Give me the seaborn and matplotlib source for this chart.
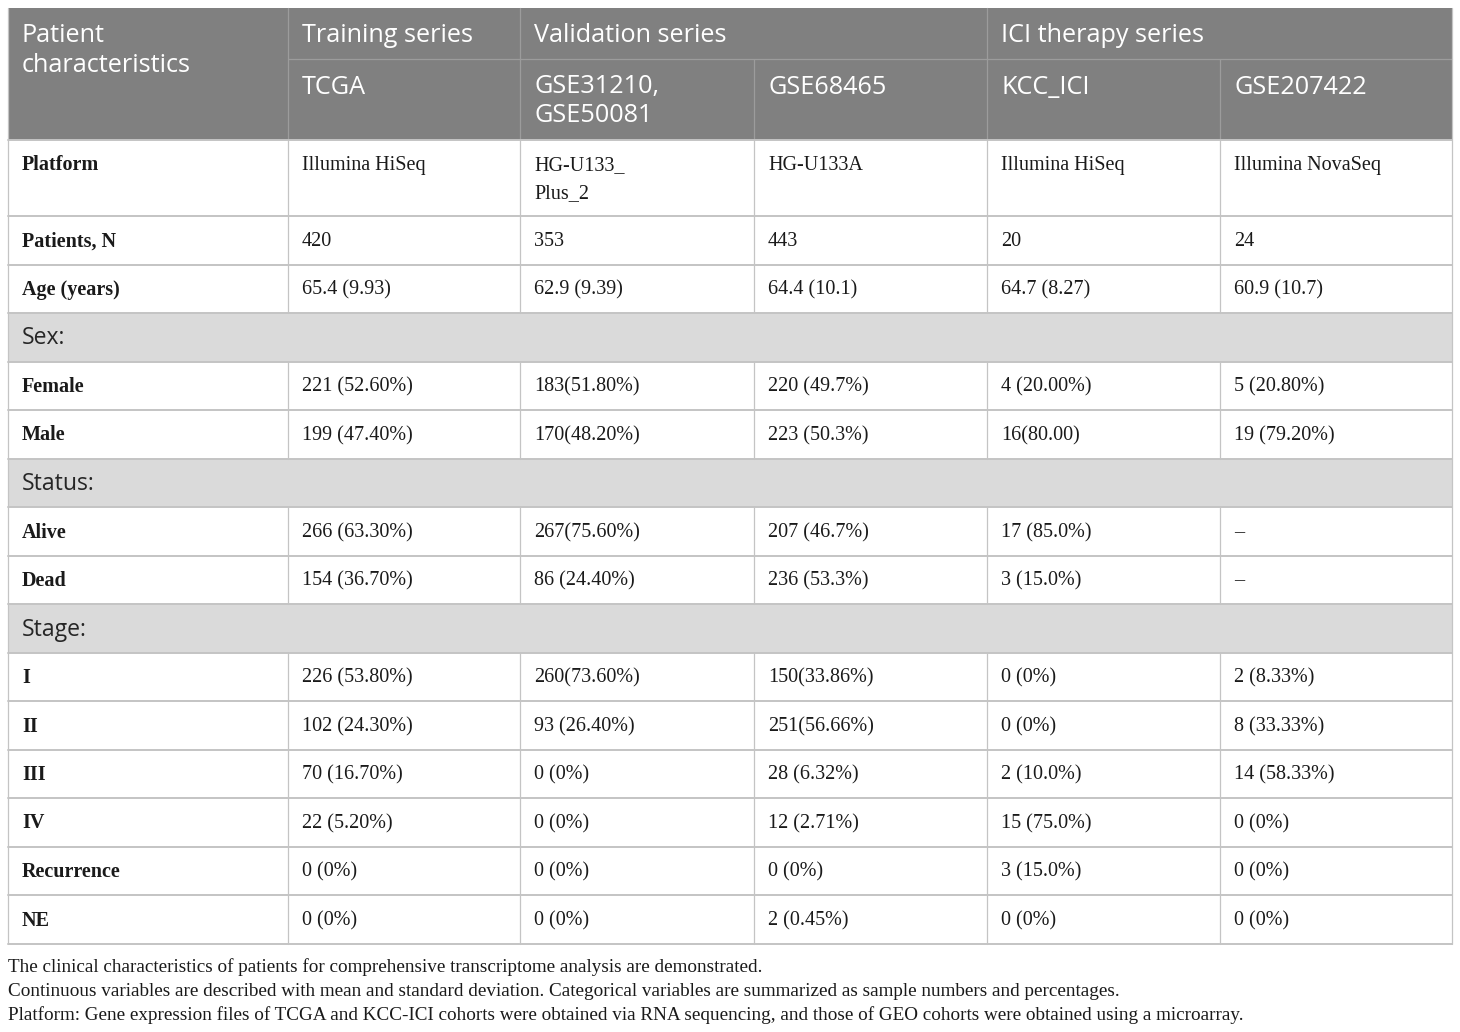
import matplotlib
matplotlib.use('agg')
import matplotlib.pyplot as plt
from matplotlib.patches import Rectangle
import seaborn as sns

# table content
group_labels = ["Training series", "Validation series", "ICI therapy series"]
group_spans = [1, 2, 2]
cohorts = ["TCGA", "GSE31210,\nGSE50081", "GSE68465", "KCC_ICI", "GSE207422"]

row_labels = ["Platform", "Patients, N", "Age (years)", "Sex:", "Female", "Male",
              "Status:", "Alive", "Dead", "Stage:", "I", "II", "III", "IV",
              "Recurrence", "NE"]
section_rows = ["Sex:", "Status:", "Stage:"]

platform = ["Illumina HiSeq", "HG-U133_\nPlus_2", "HG-U133A", "Illumina HiSeq", "Illumina NovaSeq"]
patients_n = ["420", "353", "443", "20", "24"]
age = ["65.4 (9.93)", "62.9 (9.39)", "64.4 (10.1)", "64.7 (8.27)", "60.9 (10.7)"]
female = ["221 (52.60%)", "183(51.80%)", "220 (49.7%)", "4 (20.00%)", "5 (20.80%)"]
male = ["199 (47.40%)", "170(48.20%)", "223 (50.3%)", "16(80.00)", "19 (79.20%)"]
alive = ["266 (63.30%)", "267(75.60%)", "207 (46.7%)", "17 (85.0%)", "\u2013"]
dead = ["154 (36.70%)", "86 (24.40%)", "236 (53.3%)", "3 (15.0%)", "\u2013"]
stage_1 = ["226 (53.80%)", "260(73.60%)", "150(33.86%)", "0 (0%)", "2 (8.33%)"]
stage_2 = ["102 (24.30%)", "93 (26.40%)", "251(56.66%)", "0 (0%)", "8 (33.33%)"]
stage_3 = ["70 (16.70%)", "0 (0%)", "28 (6.32%)", "2 (10.0%)", "14 (58.33%)"]
stage_4 = ["22 (5.20%)", "0 (0%)", "12 (2.71%)", "15 (75.0%)", "0 (0%)"]
recurrence = ["0 (0%)", "0 (0%)", "0 (0%)", "3 (15.0%)", "0 (0%)"]
not_eval = ["0 (0%)", "0 (0%)", "2 (0.45%)", "0 (0%)", "0 (0%)"]

footnotes = [
    "The clinical characteristics of patients for comprehensive transcriptome analysis are demonstrated.",
    "Continuous variables are described with mean and standard deviation. Categorical variables are summarized as sample numbers and percentages.",
    "Platform: Gene expression files of TCGA and KCC-ICI cohorts were obtained via RNA sequencing, and those of GEO cohorts were obtained using a microarray.",
]

cells = {
    "Platform": platform, "Patients, N": patients_n, "Age (years)": age,
    "Female": female, "Male": male, "Alive": alive, "Dead": dead,
    "I": stage_1, "II": stage_2, "III": stage_3, "IV": stage_4,
    "Recurrence": recurrence, "NE": not_eval,
}

sns.set_theme(style="white")
SANS = ["Open Sans", "DejaVu Sans"]
SERIF = ["Liberation Serif", "DejaVu Serif"]

W, H = 1460, 1032
fig = plt.figure(figsize=(W / 100, H / 100), dpi=100)
ax = fig.add_axes([0, 0, 1, 1])
ax.set_xlim(0, W)
ax.set_ylim(H, 0)
ax.axis("off")

col_x = [8, 288, 520, 754, 987, 1220, 1452]
head_top, head_mid, head_bot = 8, 59, 140
row_h = [76] + [48.5] * (len(row_labels) - 1)
row_y = [head_bot]
for h in row_h:
    row_y.append(row_y[-1] + h)

HEAD_BG = "#808080"
HEAD_LINE = "#9c9c9c"
SEC_BG = "#dadada"
GRID = "#c4c4c4"
pad = 14


def put_lines(x, y, s, step, **kw):
    # multi-line cell text with a fixed pixel line step
    for j, line in enumerate(s.split("\n")):
        ax.text(x, y + j * step, line, va="center", ha="left", **kw)


# header block
ax.add_patch(Rectangle((col_x[0], head_top), col_x[-1] - col_x[0], head_bot - head_top,
                       facecolor=HEAD_BG, edgecolor="none"))
ax.plot([col_x[1], col_x[-1]], [head_mid, head_mid], color=HEAD_LINE, lw=0.9)
for x in [col_x[1], col_x[2], col_x[4]]:
    ax.plot([x, x], [head_top, head_bot], color=HEAD_LINE, lw=0.9)
for x in [col_x[3], col_x[5]]:
    ax.plot([x, x], [head_mid, head_bot], color=HEAD_LINE, lw=0.9)

head_kw = dict(color="white", family=SANS, fontsize=18.2)
put_lines(col_x[0] + pad, 36, "Patient\ncharacteristics", 29.5, **head_kw)
ci = 1
for lab, span in zip(group_labels, group_spans):
    put_lines(col_x[ci] + pad, 36, lab, 30, **head_kw)
    ci += span
for i, c in enumerate(cohorts):
    put_lines(col_x[i + 1] + pad, 87, c, 29, **head_kw)

# body rows
body_kw = dict(color="#1a1a1a", family=SERIF, fontsize=14.5)
for r, lab in enumerate(row_labels):
    y0, y1 = row_y[r], row_y[r + 1]
    ty = y0 + 25.5
    if lab in section_rows:
        ax.add_patch(Rectangle((col_x[0], y0), col_x[-1] - col_x[0], y1 - y0,
                               facecolor=SEC_BG, edgecolor="none"))
        ax.text(col_x[0] + pad, y0 + 25.5, lab, color="#262626", family=SANS,
                fontsize=16.6, va="center", ha="left")
        continue
    for x in col_x[1:-1]:
        ax.plot([x, x], [y0, y1], color=GRID, lw=0.9)
    put_lines(col_x[0] + pad, ty, lab, 28, fontweight="bold", **body_kw)
    for i, v in enumerate(cells[lab]):
        put_lines(col_x[i + 1] + pad, ty, v, 28, **body_kw)

for y in row_y:
    ax.plot([col_x[0], col_x[-1]], [y, y], color=GRID, lw=1.4)
for x in [col_x[0], col_x[-1]]:
    ax.plot([x, x], [head_top, row_y[-1]], color=GRID, lw=0.9)

# footnotes
for k, note in enumerate(footnotes):
    ax.text(col_x[0], 967 + 24 * k, note, color="#1a1a1a", family=SERIF,
            fontsize=13.75, va="center", ha="left")

fig.savefig("out.png", dpi=100, facecolor="white")
